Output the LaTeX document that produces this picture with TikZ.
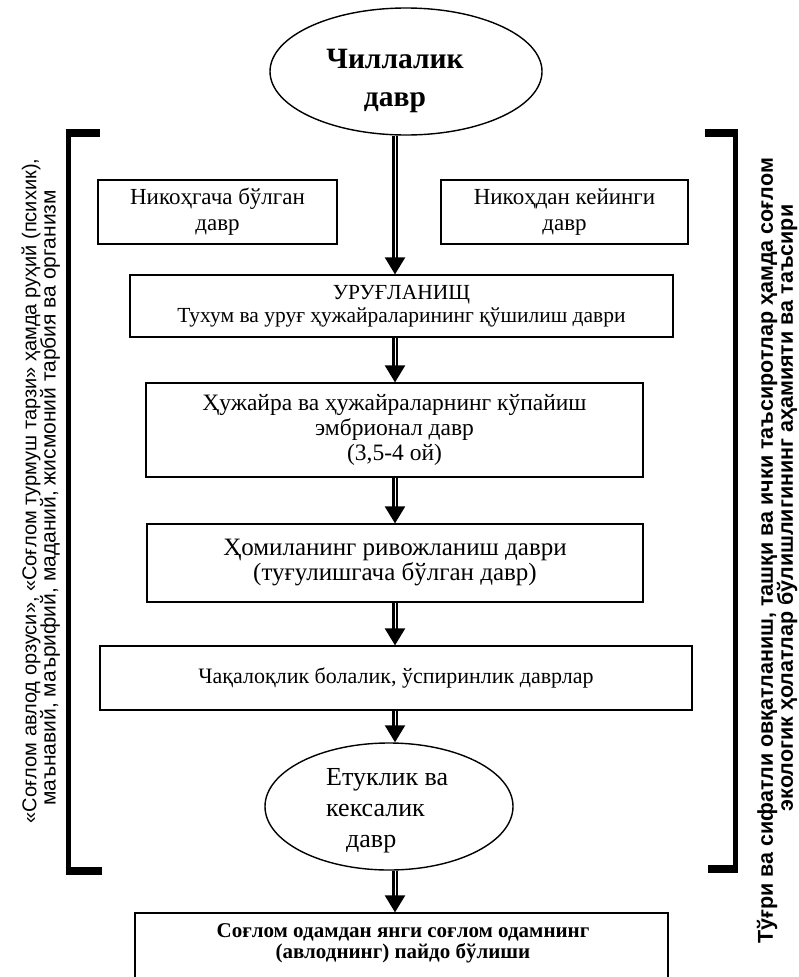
\documentclass[tikz,border=0pt]{standalone}
\usepackage{fontspec}
\setmainfont{Liberation Serif}
\newfontfamily\sidefont{Liberation Sans}
\usetikzlibrary{shapes.geometric,arrows.meta}
\begin{document}
\begin{tikzpicture}[x=1pt,y=-1pt,
  box/.style={draw, line width=1.2pt, rectangle, inner sep=0pt, align=center},
  oval/.style={draw, line width=1.4pt, ellipse, inner sep=0pt},
  flow/.style={draw=black, line width=2.2pt, double=white, double distance=0.9pt,
    -{Triangle[width=20pt,length=17pt]}},
  bar/.style={line width=5pt},
  serifbar/.style={line width=7.5pt},
  side/.style={rotate=90, inner sep=0pt, align=center},
  plain/.style={inner sep=0pt, align=center}
]
\useasboundingbox[fill=white] (0,0) rectangle (798,977);

% brackets
\draw[bar] (68,130) -- (68,874);
\draw[serifbar] (65.5,133) -- (100,133);
\draw[serifbar] (65.5,871) -- (102,871);
\draw[bar] (735,130) -- (735,872);
\draw[serifbar] (705,133) -- (737.5,133);
\draw[serifbar] (708,869) -- (737.5,869);

% top ellipse
\node[oval, minimum width=272pt, minimum height=127pt] (e1) at (406,71.5) {};
\node[plain, font=\bfseries\fontsize{29.5}{38}\selectfont] (e1t) at (395,81) {Чиллалик\\давр};

% two top boxes
\node[box, minimum width=239pt, minimum height=64pt, font=\fontsize{23}{26}\selectfont] (t1) at (217.5,212) {Никоҳгача бўлган\\давр};
\node[box, minimum width=247pt, minimum height=64pt, font=\fontsize{23}{26}\selectfont] (t2) at (564.5,212) {Никоҳдан кейинги\\давр};

% main boxes
\node[box, minimum width=543pt, minimum height=62pt, font=\fontsize{21.5}{23}\selectfont] (b1) at (401.5,306) {УРУҒЛАНИЩ\\Тухум ва уруғ ҳужайраларининг қўшилиш даври};
\node[box, minimum width=497pt, minimum height=94pt, font=\fontsize{23.5}{25}\selectfont] (b2) at (394.5,430) {Ҳужайра ва ҳужайраларнинг кўпайиш\\эмбрионал давр\\(3,5-4 ой)};
\node[box, minimum width=496pt, minimum height=78pt, font=\fontsize{25}{25}\selectfont] (b3) at (395,563) {Ҳомиланинг ривожланиш даври\\(туғулишгача бўлган давр)};
\node[box, minimum width=592pt, minimum height=64pt, font=\fontsize{22}{25}\selectfont] (b4) at (396,678) {Чақалоқлик болалик, ўспиринлик даврлар};

% bottom ellipse
\node[oval, minimum width=248pt, minimum height=127pt] (e2) at (389,806.5) {};
\node[inner sep=0pt, align=left, anchor=west, font=\fontsize{26}{31}\selectfont] (e2t) at (326,811) {Етуклик ва\\кексалик\\\hspace*{20pt}давр};

% final box (its lower edge lies below the page, as in the reference)
\node[box, minimum width=533pt, minimum height=74pt] (b5) at (401.5,950) {};
\node[plain, font=\bfseries\fontsize{21}{21}\selectfont] (b5t) at (403,943) {Соғлом одамдан янги соғлом одамнинг\\(авлоднинг) пайдо бўлиши};

% arrows
\coordinate (ax) at (395,0);
\draw[flow] (e1.south -| ax) -- (b1.north -| ax);
\draw[flow] (b1.south -| ax) -- (b2.north -| ax);
\draw[flow] (b2.south -| ax) -- (b3.north -| ax);
\draw[flow] (b3.south -| ax) -- (b4.north -| ax);
\draw[flow] (b4.south -| ax) -- (e2.north -| ax);
\draw[flow] (e2.south -| ax) -- (b5.north -| ax);

% side texts
\node[side, font=\sidefont\fontsize{20}{17}\selectfont] (l1) at (31,491) {«Соғлом авлод орзуси», «Соғлом турмуш тарзи» ҳамда руҳий (психик),};
\node[side, font=\sidefont\fontsize{21}{17}\selectfont] (l2) at (50,498) {маънавий, маърифий, маданий, жисмоний тарбия ва организм};
\node[side, font=\sidefont\bfseries\fontsize{21.5}{17}\selectfont] (r1) at (767,551) {Тўғри ва сифатли овқатланиш, ташқи ва ички таъсиротлар ҳамда соғлом};
\node[side, font=\sidefont\bfseries\fontsize{21.5}{17}\selectfont] (r2) at (787,508) {экологик ҳолатлар бўлишлигининг аҳамияти ва таъсири};
\end{tikzpicture}
\end{document}
